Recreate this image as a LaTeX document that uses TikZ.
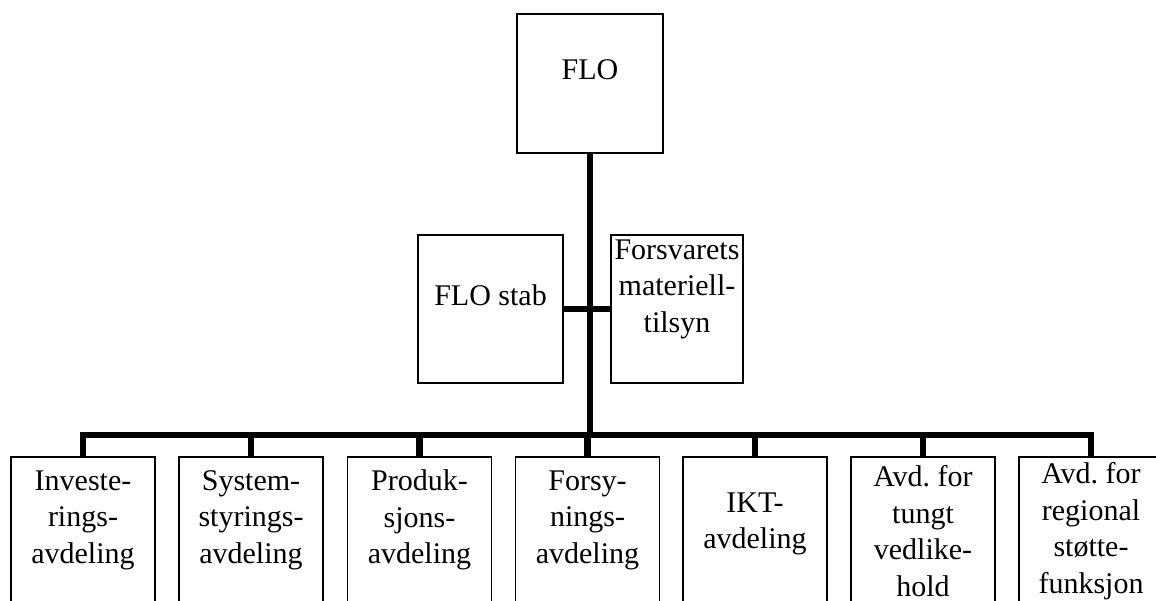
\documentclass[tikz,border=0pt]{standalone}
\usepackage{fontspec}
\setmainfont{Liberation Serif}
\usetikzlibrary{calc}

\tikzset{
  unitbox/.style={draw, line width=1pt, inner sep=0pt, minimum width=108pt, minimum height=127.5pt},
  unittext/.style={align=center, inner sep=0pt, font=\fontsize{22.5}{27.4}\selectfont},
  link/.style={line width=5.2pt, line join=miter}
}

\begin{document}
\begin{tikzpicture}[x=0.75pt,y=0.75pt,yscale=-1,xscale=1]
        \clip (0,0) rectangle (1156,600);

        %Top box
        \node[unitbox, minimum width=109.5pt, minimum height=104.25pt] (flo) at (590,83.5) {};
        \node[unittext] (flo-t) at (590,70) {FLO};

        %Staff boxes
        \node[unitbox, minimum width=108.75pt, minimum height=111pt] (stab) at (490.5,309) {};
        \node[unittext] (stab-t) at (490.5,295) {FLO stab};
        \node[unitbox, minimum width=99pt, minimum height=111pt] (tilsyn) at (677,309) {};
        \node[unittext] (tilsyn-t) at (677,289) {Forsvarets\\materiell-\\tilsyn};

        %Departments
        \foreach \i/\cx in {1/83,2/251,3/419.5,4/587.5,5/755,6/923,7/1091}
            \node[unitbox] (b\i) at (\cx,542) {};
        \node[unittext] (b1-t) at (b1 |- 0,520) {Investe-\\rings-\\avdeling};
        \node[unittext] (b2-t) at (b2 |- 0,520) {System-\\styrings-\\avdeling};
        \node[unittext] (b3-t) at (b3 |- 0,520) {Produk-\\sjons-\\avdeling};
        \node[unittext] (b4-t) at (b4 |- 0,520) {Forsy-\\nings-\\avdeling};
        \node[unittext] (b5-t) at (b5 |- 0,524) {IKT-\\avdeling};
        \node[unittext] (b6-t) at (b6 |- 0,531) {Avd.\ for\\tungt\\vedlike-\\hold};
        \node[unittext] (b7-t) at (b7 |- 0,531) {Avd.\ for\\regional\\støtte-\\funksjon};

        %Connectors
        \coordinate (hub) at (590,435);
        \draw[link] (flo.south) -- (hub);
        \draw[link] (stab.east) -- (tilsyn.west);
        \draw[link] (b1.north) |- (hub) -| (b7.north);
        \foreach \i in {2,...,6}
            \draw[link] (b\i.north) -- (b\i.north |- hub);

    \end{tikzpicture}
\end{document}
